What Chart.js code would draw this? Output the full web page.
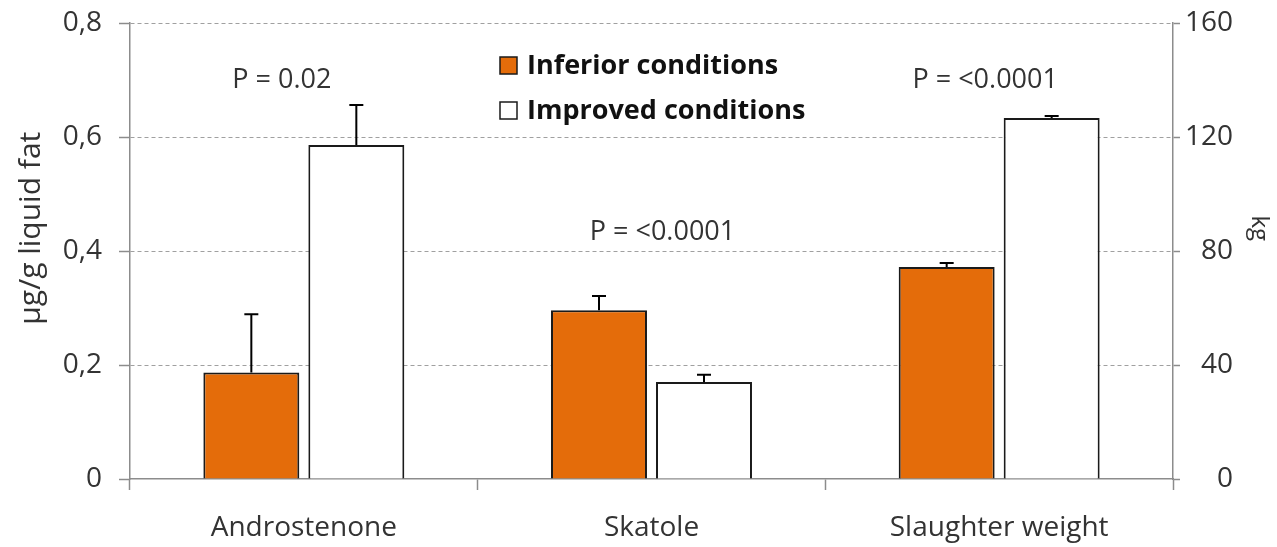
<!DOCTYPE html>
<html lang="en">
<head>
  <meta charset="UTF-8">
  <title>Boar taint and slaughter weight</title>
  <script src="https://cdn.jsdelivr.net/npm/chart.js"></script>
  <style>
    body {
      margin: 0;
      background: #fff;
    }
    #wrap {
      width: 1277px;
      height: 547px;
    }
  </style>
</head>
<body>
<div id="wrap"><canvas id="taintChart"></canvas></div>

<script>
  // categories and values (left axis: µg/g liquid fat, right axis: kg)
  const categories = ['Androstenone', 'Skatole', 'Slaughter weight'];
  const seriesNames = ['Inferior conditions', 'Improved conditions'];

  const inferiorFat = [0.187, 0.296, null];
  const improvedFat = [0.586, 0.170, null];
  const inferiorFatSd = [0.102, 0.025, null];
  const improvedFatSd = [0.070, 0.013, null];

  const inferiorKg = [null, null, 74.4];
  const improvedKg = [null, null, 126.7];
  const inferiorKgSd = [null, null, 1.4];
  const improvedKgSd = [null, null, 0.7];

  const pLabels = ['P = 0.02', 'P = <0.0001', 'P = <0.0001'];
  const pLabelLevel = [0.70, 0.433, 0.70];   // height on the left axis

  const leftTicks = [0, 0.2, 0.4, 0.6, 0.8];
  const rightTicks = [0, 40, 80, 120, 160];

  const leftTitle = 'µg/g liquid fat';
  const rightTitle = 'kg';

  const ORANGE = '#E46C0A';
  const EDGE = '#1a1a1a';
  const AXIS = '#8c8c8c';
  const TEXT = '#333333';
  const FONT = "'Open Sans', sans-serif";

  // upper error bars, P values, axis titles and the legend box
  const extras = {
    id: 'extras',
    afterDatasetsDraw(chart) {
      const ctx = chart.ctx;
      const sds = [inferiorFatSd, improvedFatSd, inferiorKgSd, improvedKgSd];
      ctx.save();
      ctx.strokeStyle = '#000';
      ctx.lineWidth = 2;
      chart.data.datasets.forEach((ds, i) => {
        const meta = chart.getDatasetMeta(i);
        const yScale = chart.scales[ds.yAxisID];
        meta.data.forEach((bar, j) => {
          const v = ds.data[j];
          if (v === null) return;
          const top = yScale.getPixelForValue(v + sds[i][j]);
          ctx.beginPath();
          ctx.moveTo(bar.x, bar.y);
          ctx.lineTo(bar.x, top);
          ctx.moveTo(bar.x - 7, top);
          ctx.lineTo(bar.x + 7, top);
          ctx.stroke();
        });
      });

      const x = chart.scales.x;
      const y = chart.scales.y;
      ctx.fillStyle = TEXT;
      ctx.font = '27px ' + FONT;
      ctx.textAlign = 'center';
      ctx.textBaseline = 'middle';
      const shift = [-22, 11, -14];
      pLabels.forEach((t, i) => {
        ctx.fillText(t, x.getPixelForValue(i) + shift[i], y.getPixelForValue(pLabelLevel[i]));
      });

      // axis titles
      const midY = chart.chartArea.top + (chart.chartArea.bottom - chart.chartArea.top) * 0.45;
      ctx.save();
      ctx.translate(31, midY);
      ctx.rotate(-Math.PI / 2);
      ctx.font = '30px ' + FONT;
      ctx.fillText(leftTitle, 0, 0);
      ctx.restore();
      ctx.save();
      ctx.translate(1259, midY);
      ctx.rotate(Math.PI / 2);
      ctx.font = '24px ' + FONT;
      ctx.fillText(rightTitle, 0, 0);
      ctx.restore();

      // legend
      const lx = chart.chartArea.left + 370;
      const rows = [66, 111];
      const fills = [ORANGE, '#fff'];
      ctx.font = 'bold 27px ' + FONT;
      ctx.textAlign = 'left';
      rows.forEach((ry, i) => {
        ctx.fillStyle = fills[i];
        ctx.fillRect(lx, ry - 9, 17, 17);
        ctx.lineWidth = 1.5;
        ctx.strokeStyle = EDGE;
        ctx.strokeRect(lx, ry - 9, 17, 17);
        ctx.fillStyle = '#111';
        ctx.fillText(seriesNames[i], lx + 27, ry);
      });
      ctx.restore();
    }
  };

  const noPad = s => { s.paddingTop = 0; s.paddingBottom = 0; };

  const ctx = document.getElementById('taintChart').getContext('2d');
  const taintChart = new Chart(ctx, {
    type: 'bar',
    data: {
      labels: categories,
      datasets: [
        { label: seriesNames[0], data: inferiorFat, yAxisID: 'y', stack: 'a', backgroundColor: ORANGE },
        { label: seriesNames[1], data: improvedFat, yAxisID: 'y', stack: 'b', backgroundColor: '#fff' },
        { label: seriesNames[0], data: inferiorKg, yAxisID: 'y2', stack: 'c', backgroundColor: ORANGE },
        { label: seriesNames[1], data: improvedKg, yAxisID: 'y2', stack: 'd', backgroundColor: '#fff' }
      ]
    },
    options: {
      responsive: true,
      maintainAspectRatio: false,
      animation: false,
      layout: { padding: { top: 23, left: 0, right: 44, bottom: 0 } },
      datasets: {
        bar: {
          skipNull: true,
          borderColor: EDGE,
          borderWidth: 2,
          categoryPercentage: 0.604,
          barPercentage: 0.914
        }
      },
      scales: {
        x: {
          grid: {
            offset: true,
            drawOnChartArea: false,
            drawTicks: true,
            tickLength: 11,
            tickColor: AXIS,
            tickWidth: 1.5
          },
          border: { color: AXIS, width: 1.5 },
          ticks: {
            color: TEXT,
            font: { family: FONT, size: 28 },
            padding: 21
          },
          afterFit: s => { s.height = 68; s.paddingLeft = 0; s.paddingRight = 0; }
        },
        y: {
          position: 'left',
          min: 0,
          max: 0.8,
          afterBuildTicks: s => { s.ticks = leftTicks.map(v => ({ value: v })); },
          grid: {
            color: c => c.tick && c.tick.value === 0 ? 'rgba(0,0,0,0)' : '#a0a0a0',
            lineWidth: 1,
            tickLength: 11,
            tickColor: AXIS,
            tickWidth: 1.5,
            tickBorderDash: []
          },
          border: { color: AXIS, width: 1.5, dash: [4, 3] },
          ticks: {
            color: TEXT,
            font: { family: FONT, size: 28 },
            padding: 17,
            callback: v => v === 0 ? '0' : v.toFixed(1).replace('.', ',')
          },
          afterFit: s => { s.width = 130; noPad(s); }
        },
        y2: {
          position: 'right',
          min: 0,
          max: 160,
          afterBuildTicks: s => { s.ticks = rightTicks.map(v => ({ value: v })); },
          grid: {
            drawOnChartArea: false,
            tickLength: 7,
            tickColor: AXIS,
            tickWidth: 1.5
          },
          border: { color: AXIS, width: 1.5 },
          ticks: {
            color: TEXT,
            font: { family: FONT, size: 28 },
            padding: 8,
            crossAlign: 'far'
          },
          afterFit: s => { s.width = 60; noPad(s); }
        }
      },
      plugins: {
        legend: { display: false },
        tooltip: { enabled: false }
      }
    },
    plugins: [extras]
  });
</script>
</body>
</html>
